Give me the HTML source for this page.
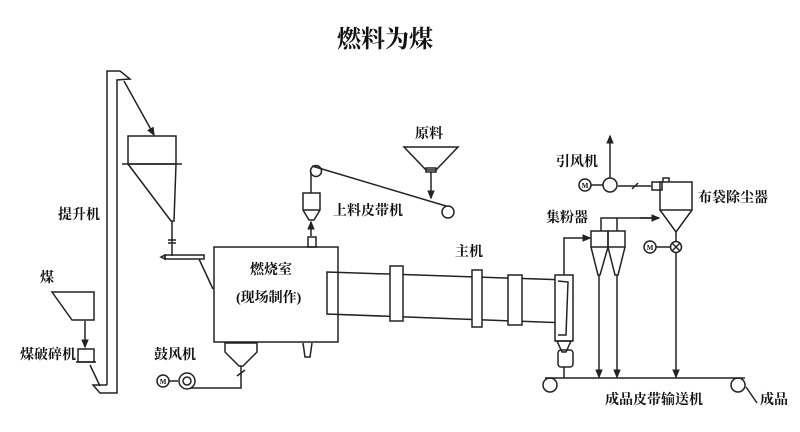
<!DOCTYPE html>
<html><head><meta charset="utf-8"><style>
html,body{margin:0;padding:0;background:#fff;}
svg{display:block;}
text{font-family:"Liberation Serif","Noto Serif CJK SC","Noto Sans CJK SC",serif;fill:#111;font-weight:bold;}
</style></head><body>
<svg width="800" height="432" viewBox="0 0 800 432" xmlns="http://www.w3.org/2000/svg">
<defs><marker id="a" markerWidth="6" markerHeight="6" refX="5" refY="3" orient="auto"><path d="M0,0.5 L6,3 L0,5.5z" fill="#222"/></marker></defs>
<g fill="none" stroke="#222" stroke-width="1.5">
<path d="M107,385 L107,71 L120,71 L130,79 L117,80 L117,393 L100,393 L93,385 L107,385"/>
<line x1="124" y1="81" x2="154" y2="135" marker-end="url(#a)"/>
<rect x="128" y="136" width="48" height="28"/>
<line x1="122" y1="164" x2="182" y2="164"/>
<path d="M128,164 L171,221 L174,221 L176,164"/>
<line x1="172" y1="221" x2="172" y2="256"/>
<path d="M168,240 L176,240 M168,243 L176,243"/>
<rect x="165" y="255" width="39" height="4"/>
<path d="M161,257 L165,255 L165,259z"/>
<line x1="199" y1="259" x2="213" y2="289"/>
<path d="M52,292 L94,292 L94,320 L72,320 Z"/>
<line x1="85" y1="321" x2="85" y2="347" marker-end="url(#a)"/>
<rect x="78" y="349" width="16" height="13"/>
<path d="M76,362 L96,362"/>
<line x1="90" y1="365" x2="100" y2="386"/>
<rect x="214" y="247" width="124" height="95"/>
<rect x="308" y="237" width="8" height="10"/>
<path d="M303,343 L305,357 L310,357 L312,343"/>
<path d="M225,343 L257,343 L257,352 L243,366 L239,366 L225,352 Z"/>
<line x1="241" y1="366" x2="241" y2="381"/>
<path d="M237,376 L245,370"/>
<circle cx="163" cy="381" r="6"/><line x1="169" y1="381" x2="178" y2="381"/>
<circle cx="187" cy="381" r="8"/><circle cx="187" cy="381" r="4"/>
<path d="M190,388 L241,388 L241,381"/>
<circle cx="316" cy="171" r="5.5"/>
<line x1="312" y1="166" x2="446" y2="206"/>
<line x1="311" y1="172" x2="311" y2="193"/>
<path d="M303,193 L320,193 L320,210 L314,220 L309,220 L303,210 Z M303,210 L320,210"/>
<line x1="311" y1="236" x2="311" y2="222" marker-end="url(#a)"/>
<circle cx="448" cy="212" r="6"/>
<path d="M404,147 L458,147 L436,170 L426,170 Z"/>
<rect x="426" y="168" width="10" height="4"/>
<line x1="431" y1="172" x2="431" y2="198" marker-end="url(#a)"/>
<path d="M327,272 L567,280 L567,323 L327,314 Z"/>
<rect x="390" y="266" width="13" height="55" fill="#fff"/>
<rect x="472" y="270" width="10" height="57" fill="#fff"/>
<rect x="508" y="275" width="14" height="50" fill="#fff"/>
<rect x="555" y="275" width="18" height="66" fill="#fff"/>
<path d="M558,281 L568,282 L566,335 L558,335"/>
<path d="M557,341 L571,341 L566,352 L562,352 Z"/>
<rect x="558" y="350" width="15" height="17" rx="3"/>
<line x1="564" y1="378" x2="564" y2="367"/>
<line x1="545" y1="378" x2="745" y2="378"/>
<circle cx="550" cy="385" r="7"/>
<circle cx="738" cy="385" r="7"/>
<line x1="746" y1="387" x2="757" y2="403"/>
<path d="M564,275 L564,238 L590,238" marker-end="url(#a)"/>
<rect x="591" y="231" width="17" height="16"/><rect x="608" y="231" width="17" height="16"/>
<path d="M591,247 L598,275 L600,275 L608,247 L615,275 L618,275 L625,247"/>
<path d="M601,231 L601,218 L617,218 L617,231 M601,218 L658,218" />
<line x1="640" y1="218" x2="659" y2="218" marker-end="url(#a)"/>
<line x1="599" y1="275" x2="599" y2="377" marker-end="url(#a)"/>
<line x1="617" y1="275" x2="617" y2="377" marker-end="url(#a)"/>
<rect x="660" y="182" width="32" height="28"/>
<path d="M660,210 L676,232 L692,210"/>
<circle cx="676" cy="247" r="5.5"/><path d="M672,243 L680,251 M680,243 L672,251"/>
<circle cx="650" cy="247" r="6"/><line x1="656" y1="247" x2="670" y2="247"/>
<line x1="676" y1="232" x2="676" y2="241"/>
<line x1="676" y1="253" x2="676" y2="377" marker-end="url(#a)"/>
<rect x="652" y="182" width="10" height="8"/>
<path d="M663,182 L663,178 L669,178 L669,182"/>
<line x1="618" y1="186" x2="651" y2="186"/>
<path d="M632,189 L638,183"/>
<circle cx="610" cy="185" r="7"/>
<line x1="610" y1="178" x2="610" y2="136" marker-end="url(#a)"/>
<circle cx="585" cy="185" r="6"/><line x1="591" y1="185" x2="603" y2="185"/>
</g>
<g font-size="7" text-anchor="middle">
<text x="163" y="384">M</text><text x="585" y="188">M</text><text x="650" y="250">M</text>
</g>
<g font-size="14">
<text x="385" y="47" font-size="24" text-anchor="middle">燃料为煤</text>
<text x="58" y="219">提升机</text>
<text x="40" y="282">煤</text>
<text x="20" y="359">煤破碎机</text>
<text x="154" y="359">鼓风机</text>
<text x="250" y="274">燃烧室</text>
<text x="236" y="302">(现场制作)</text>
<text x="415" y="138">原料</text>
<text x="333" y="215">上料皮带机</text>
<text x="455" y="256">主机</text>
<text x="556" y="166">引风机</text>
<text x="698" y="202">布袋除尘器</text>
<text x="546" y="222">集粉器</text>
<text x="605" y="404">成品皮带输送机</text>
<text x="760" y="404">成品</text>
</g>
</svg>
</body></html>
